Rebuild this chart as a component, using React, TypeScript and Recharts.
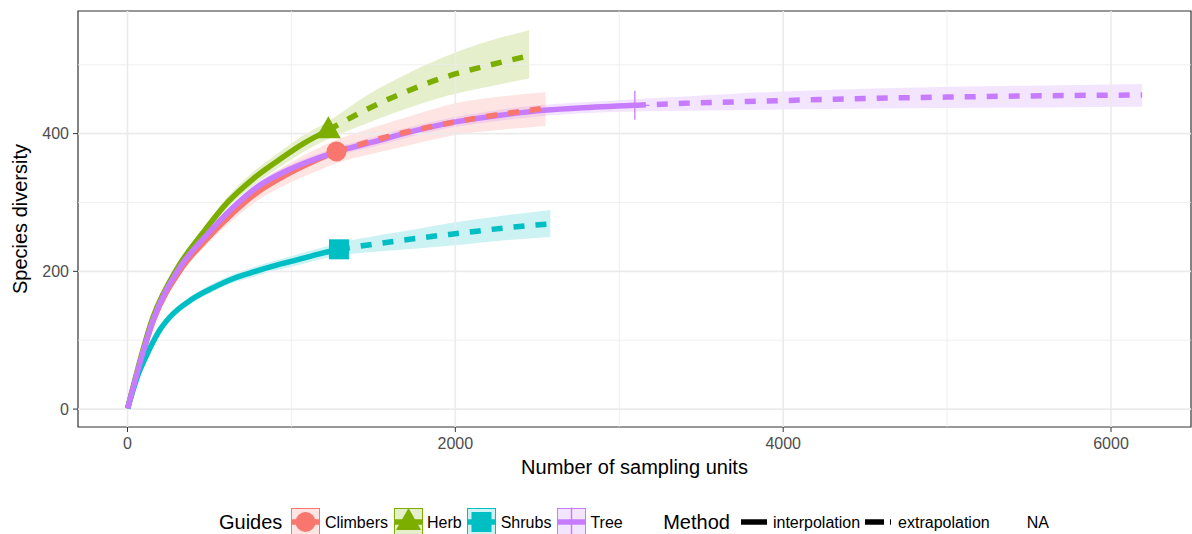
import React from 'react';
import {
  ComposedChart,
  Area,
  Line,
  Scatter,
  XAxis,
  YAxis,
  ReferenceLine,
  ReferenceArea,
} from 'recharts';

const FONT = "'Liberation Sans', Arial, Helvetica, sans-serif";

const X_DOMAIN: [number, number] = [-302, 6488];
const Y_DOMAIN: [number, number] = [-26, 578];
const X_TICKS = [0, 2000, 4000, 6000];
const Y_TICKS = [0, 200, 400];
const X_MINOR = [1000, 3000, 5000];
const Y_MINOR = [100, 300, 500];

// Climbers
const climbersInterpM = [1, 160, 320, 480, 640, 800, 960, 1120, 1275];
const climbersInterpY = [1, 130, 201, 246, 284, 316, 339, 358, 374];
const climbersInterpLo = [1, 127, 195, 238, 274, 304, 325, 342, 357];
const climbersInterpHi = [1, 133, 207, 254, 294, 328, 353, 374, 391];
const climbersExtrapM = [1275, 1500, 1750, 2000, 2250, 2550];
const climbersExtrapY = [374, 390, 405, 417, 427, 437];
const climbersExtrapLo = [357, 371, 385, 398, 405, 411];
const climbersExtrapHi = [391, 409, 427, 444, 453, 460];

// Herb
const herbInterpM = [1, 155, 305, 460, 610, 765, 920, 1070, 1225];
const herbInterpY = [1, 133, 205, 256, 300, 334, 361, 385, 405];
const herbInterpLo = [1, 130, 200, 250, 292, 324, 350, 373, 392];
const herbInterpHi = [1, 136, 210, 262, 308, 344, 372, 397, 418];
const herbExtrapM = [1225, 1450, 1700, 1950, 2200, 2450];
const herbExtrapY = [405, 434, 461, 483, 499, 513];
const herbExtrapLo = [392, 414, 436, 455, 468, 480];
const herbExtrapHi = [418, 454, 486, 513, 534, 550];

// Shrubs
const shrubsInterpM = [1, 65, 130, 195, 260, 390, 520, 650, 780, 910, 1040, 1165, 1290];
const shrubsInterpY = [1, 50, 85, 114, 134, 159, 176, 190, 200, 209, 217, 225, 232];
const shrubsInterpLo = [1, 48, 82, 110, 129, 154, 170, 184, 193, 202, 209, 217, 223];
const shrubsInterpHi = [1, 52, 88, 118, 139, 164, 182, 196, 207, 216, 225, 233, 241];
const shrubsExtrapM = [1290, 1550, 1800, 2050, 2300, 2580];
const shrubsExtrapY = [232, 241, 249, 256, 263, 269];
const shrubsExtrapLo = [223, 229, 234, 239, 245, 250];
const shrubsExtrapHi = [241, 253, 263, 273, 281, 289];

// Tree
const treeInterpM = [1, 160, 320, 480, 640, 800, 960, 1120, 1280, 1500, 1750, 2000, 2250, 2500, 2750, 3095];
const treeInterpY = [1, 132, 206, 252, 292, 324, 345, 361, 374, 388, 404, 417, 426, 433, 437, 441];
const treeInterpLo = [1, 129, 202, 247, 287, 318, 339, 355, 368, 381, 397, 410, 418, 425, 429, 432];
const treeInterpHi = [1, 135, 210, 257, 297, 330, 351, 367, 380, 395, 411, 424, 434, 441, 445, 450];
const treeExtrapM = [3095, 3400, 3700, 4000, 4500, 5000, 5600, 6190];
const treeExtrapY = [441, 444, 446, 448, 451, 453, 455, 456];
const treeExtrapLo = [432, 433, 434, 435, 436, 437, 438, 439];
const treeExtrapHi = [450, 454, 458, 461, 465, 468, 470, 472];

type Row = { m: number; y: number; band: [number, number] };

const toRows = (m: number[], y: number[], lo: number[], hi: number[]): Row[] =>
  m.map((v, i) => ({ m: v, y: y[i], band: [lo[i], hi[i]] }));

type Shape = 'circle' | 'triangle' | 'square' | 'plus';

type Group = {
  name: string;
  color: string;
  shape: Shape;
  interp: Row[];
  extrap: Row[];
};

const groups: Group[] = [
  {
    name: 'Climbers',
    color: '#F8766D',
    shape: 'circle',
    interp: toRows(climbersInterpM, climbersInterpY, climbersInterpLo, climbersInterpHi),
    extrap: toRows(climbersExtrapM, climbersExtrapY, climbersExtrapLo, climbersExtrapHi),
  },
  {
    name: 'Herb',
    color: '#7CAE00',
    shape: 'triangle',
    interp: toRows(herbInterpM, herbInterpY, herbInterpLo, herbInterpHi),
    extrap: toRows(herbExtrapM, herbExtrapY, herbExtrapLo, herbExtrapHi),
  },
  {
    name: 'Shrubs',
    color: '#00BFC4',
    shape: 'square',
    interp: toRows(shrubsInterpM, shrubsInterpY, shrubsInterpLo, shrubsInterpHi),
    extrap: toRows(shrubsExtrapM, shrubsExtrapY, shrubsExtrapLo, shrubsExtrapHi),
  },
  {
    name: 'Tree',
    color: '#C77CFF',
    shape: 'plus',
    interp: toRows(treeInterpM, treeInterpY, treeInterpLo, treeInterpHi),
    extrap: toRows(treeExtrapM, treeExtrapY, treeExtrapLo, treeExtrapHi),
  },
];

const LINE_W = 5.5;
const DASH = '11 11';

const Marker = ({ shape, color, cx, cy }: { shape: Shape; color: string; cx: number; cy: number }) => {
  if (shape === 'circle') return <circle cx={cx} cy={cy} r={10} fill={color} />;
  if (shape === 'triangle')
    return (
      <polygon
        points={`${cx},${cy - 14} ${cx - 12.5},${cy + 8} ${cx + 12.5},${cy + 8}`}
        fill={color}
      />
    );
  if (shape === 'square') return <rect x={cx - 10} y={cy - 10} width={20} height={20} fill={color} />;
  return (
    <g stroke={color} strokeWidth={1.3}>
      <line x1={cx} x2={cx} y1={cy - 14.5} y2={cy + 14.5} />
      <line x1={cx - 14.5} x2={cx + 14.5} y1={cy} y2={cy} />
    </g>
  );
};

const GuideKey = ({ g }: { g: Group }) => (
  <svg width={29} height={29} style={{ display: 'block', overflow: 'visible' }}>
    <rect x={0.5} y={0.5} width={28} height={28} fill={g.color} fillOpacity={0.2} stroke={g.color} strokeWidth={1} />
    <Marker shape={g.shape} color={g.color} cx={14.5} cy={14} />
    <line x1={1} x2={28} y1={14} y2={14} stroke={g.color} strokeWidth={LINE_W} />
    {g.shape === 'plus' && <line x1={14.5} x2={14.5} y1={1} y2={28} stroke={g.color} strokeOpacity={0.5} strokeWidth={1.3} />}
  </svg>
);

const Legend = () => {
  const title = { fontSize: 20, color: '#000' };
  const label = { fontSize: 16, color: '#000' };
  return (
    <div
      style={{
        position: 'absolute',
        left: 219,
        top: 508,
        height: 29,
        display: 'flex',
        alignItems: 'center',
        fontFamily: FONT,
        whiteSpace: 'nowrap',
      }}
    >
      <span style={{ ...title, marginRight: 9 }}>Guides</span>
      {groups.map((g) => (
        <React.Fragment key={g.name}>
          <GuideKey g={g} />
          <span style={{ ...label, marginLeft: 4.5, marginRight: 5.5 }}>{g.name}</span>
        </React.Fragment>
      ))}
      <span style={{ ...title, marginLeft: 35, marginRight: 11 }}>Method</span>
      <svg width={26} height={29} style={{ display: 'block' }}>
        <line x1={0} x2={26} y1={14} y2={14} stroke="#000" strokeWidth={LINE_W} />
      </svg>
      <span style={{ ...label, marginLeft: 6, marginRight: 5 }}>interpolation</span>
      <svg width={26} height={29} style={{ display: 'block' }}>
        <line x1={0} x2={26} y1={14} y2={14} stroke="#000" strokeWidth={LINE_W} strokeDasharray="19 6 1 20" />
      </svg>
      <span style={{ ...label, marginLeft: 7, marginRight: 5 }}>extrapolation</span>
      <svg width={26} height={29} style={{ display: 'block' }} />
      <span style={{ ...label, marginLeft: 6 }}>NA</span>
    </div>
  );
};

export default function App() {
  return (
    <div style={{ position: 'absolute', left: 0, top: 0, width: 1192, height: 534, background: '#fff', fontFamily: FONT }}>
      <ComposedChart width={1192} height={534} margin={{ top: 11, right: 1, bottom: 0, left: 0 }}>
        <XAxis
          type="number"
          dataKey="m"
          domain={X_DOMAIN}
          ticks={X_TICKS}
          allowDataOverflow
          height={107}
          axisLine={false}
          tickSize={5}
          tickMargin={6}
          tickLine={{ stroke: '#333333' }}
          tick={{ fill: '#4D4D4D', fontSize: 16, fontFamily: FONT }}
        />
        <YAxis
          type="number"
          domain={Y_DOMAIN}
          ticks={Y_TICKS}
          allowDataOverflow
          width={78}
          axisLine={false}
          tickSize={5}
          tickMargin={4}
          tickLine={{ stroke: '#333333' }}
          tick={{ fill: '#4D4D4D', fontSize: 16, fontFamily: FONT }}
        />
        {X_MINOR.map((v) => (
          <ReferenceLine key={`xm${v}`} x={v} stroke="#EBEBEB" strokeWidth={0.8} />
        ))}
        {Y_MINOR.map((v) => (
          <ReferenceLine key={`ym${v}`} y={v} stroke="#EBEBEB" strokeWidth={0.8} />
        ))}
        {X_TICKS.map((v) => (
          <ReferenceLine key={`xM${v}`} x={v} stroke="#EBEBEB" strokeWidth={1.6} />
        ))}
        {Y_TICKS.map((v) => (
          <ReferenceLine key={`yM${v}`} y={v} stroke="#EBEBEB" strokeWidth={1.6} />
        ))}
        {groups.map((g) => (
          <Scatter
            key={`pt-${g.name}`}
            data={[g.interp[g.interp.length - 1]]}
            dataKey="y"
            isAnimationActive={false}
            shape={(p: any) => <Marker shape={g.shape} color={g.color} cx={p.cx} cy={p.cy} />}
          />
        ))}
        {groups.map((g) => (
          <Line
            key={`in-${g.name}`}
            data={g.interp}
            dataKey="y"
            type="monotone"
            stroke={g.color}
            strokeWidth={LINE_W}
            dot={false}
            activeDot={false}
            isAnimationActive={false}
          />
        ))}
        {groups.map((g) => (
          <Line
            key={`ex-${g.name}`}
            data={g.extrap}
            dataKey="y"
            type="monotone"
            stroke={g.color}
            strokeWidth={LINE_W}
            strokeDasharray={DASH}
            dot={false}
            activeDot={false}
            isAnimationActive={false}
          />
        ))}
        {groups.map((g) => (
          <Area
            key={`band-${g.name}`}
            data={[...g.interp, ...g.extrap.slice(1)]}
            dataKey="band"
            type="monotone"
            stroke="none"
            fill={g.color}
            fillOpacity={0.2}
            dot={false}
            activeDot={false}
            isAnimationActive={false}
          />
        ))}
        <ReferenceArea
          x1={X_DOMAIN[0]}
          x2={X_DOMAIN[1]}
          y1={Y_DOMAIN[0]}
          y2={Y_DOMAIN[1]}
          fill="none"
          stroke="#333333"
          strokeWidth={1.2}
          ifOverflow="visible"
        />
      </ComposedChart>
      <svg width={1192} height={534} style={{ position: 'absolute', left: 0, top: 0, pointerEvents: 'none' }}>
        <text x={634.5} y={474} textAnchor="middle" fontSize={20} fontFamily={FONT} fill="#000">
          Number of sampling units
        </text>
        <text transform="translate(27,219) rotate(-90)" textAnchor="middle" fontSize={20} fontFamily={FONT} fill="#000">
          Species diversity
        </text>
      </svg>
      <Legend />
    </div>
  );
}
